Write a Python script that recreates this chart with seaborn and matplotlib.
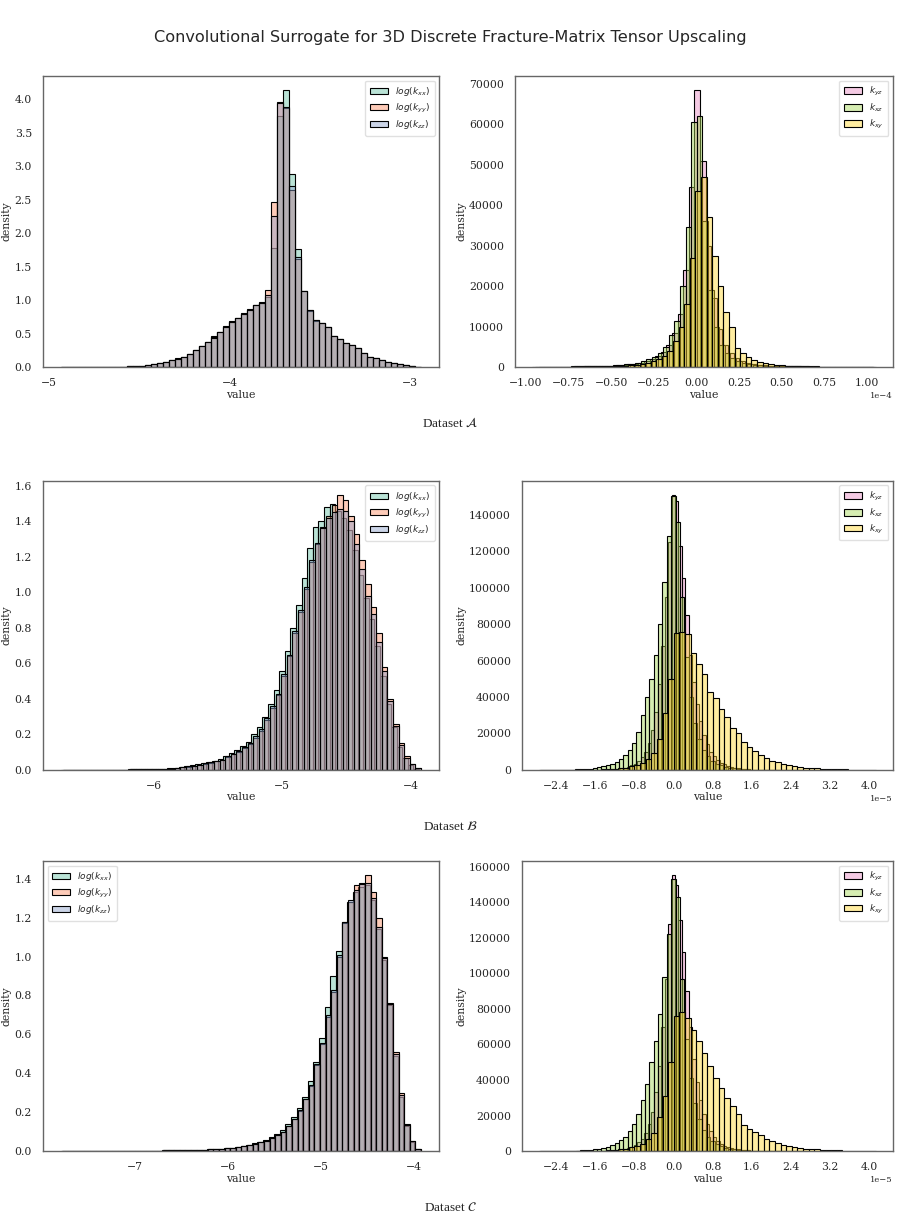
import numpy as np
import matplotlib.pyplot as plt
from matplotlib.ticker import MultipleLocator
import seaborn as sns

sns.set_theme(style="white")
plt.rcParams["font.family"] = "serif"
plt.rcParams["font.serif"] = ["DejaVu Serif"]
plt.rcParams["axes.edgecolor"] = "0.4"
plt.rcParams["axes.linewidth"] = 1.0

# each series: (first bin edge, bin width, bin heights)

# Dataset A, diagonal terms
a_kxx = (-4.935, 0.03325, [
    0.001, 0.001, 0.002, 0.002, 0.002, 0.003, 0.003, 0.004, 0.004, 0.005, 0.006, 0.008, 0.012, 0.02, 0.03,
    0.046, 0.062, 0.078, 0.10, 0.13, 0.155, 0.195, 0.255, 0.315, 0.38, 0.46, 0.53, 0.61,
    0.69, 0.74, 0.80, 0.86, 0.92, 0.97, 1.05,
    1.78, 3.75, 4.14, 2.88, 1.76,
    1.13, 0.85, 0.70, 0.66, 0.60, 0.47, 0.42, 0.36, 0.33, 0.28, 0.21, 0.155, 0.13, 0.105, 0.08, 0.055,
    0.04, 0.025, 0.015, 0.005])
a_kyy = (-4.935, 0.03325, [
    0.001, 0.001, 0.002, 0.002, 0.002, 0.003, 0.003, 0.004, 0.004, 0.005, 0.006, 0.008, 0.012, 0.02, 0.03,
    0.045, 0.06, 0.076, 0.10, 0.125, 0.15, 0.19, 0.25, 0.31, 0.38, 0.45, 0.52, 0.60,
    0.68, 0.73, 0.79, 0.85, 0.92, 0.96, 1.15,
    2.47, 3.96, 3.87, 2.65, 1.62,
    1.14, 0.84, 0.69, 0.66, 0.60, 0.47, 0.42, 0.36, 0.33, 0.28, 0.21, 0.155, 0.13, 0.105, 0.08, 0.055,
    0.04, 0.025, 0.015, 0.005])
a_kzz = (-4.935, 0.03325, [
    0.001, 0.001, 0.002, 0.002, 0.002, 0.003, 0.003, 0.004, 0.004, 0.005, 0.006, 0.008, 0.012, 0.02, 0.03,
    0.045, 0.06, 0.075, 0.10, 0.125, 0.15, 0.19, 0.25, 0.31, 0.37, 0.44, 0.52, 0.60,
    0.68, 0.73, 0.79, 0.85, 0.92, 0.96, 1.08,
    2.25, 3.95, 3.88, 2.70, 1.65,
    1.14, 0.85, 0.70, 0.66, 0.60, 0.47, 0.42, 0.36, 0.33, 0.28, 0.21, 0.155, 0.13, 0.105, 0.08, 0.055,
    0.04, 0.025, 0.015, 0.005])

# Dataset A, off-diagonal terms
a_kyz = (-0.963e-4, 0.0328e-4, [
    30, 40, 50, 60, 80, 100, 120, 140, 160, 180, 200, 210, 230, 250, 300,
    400, 500, 650, 850, 1100, 1500, 2000, 2700, 3800, 5500, 8500, 13000, 24000, 44500,
    68500, 51000, 30000, 17000, 9500, 5500, 3500, 2300, 1600, 1100, 800, 600, 450, 350, 280, 220,
    180, 160, 140, 120, 110, 100, 90, 80, 70, 60, 50, 40, 35, 30, 25, 20])
a_kxz = (-0.949e-4, 0.0328e-4, [
    30, 40, 50, 60, 80, 100, 120, 150, 170, 200, 220, 240, 270, 300, 400,
    500, 650, 850, 1100, 1500, 2000, 2600, 3500, 5000, 8000, 11500, 20000, 34500, 60500,
    62000, 36000, 19000, 10000, 5500, 3500, 2300, 1600, 1100, 800, 600, 450,
    350, 300, 260, 230, 200, 180, 160, 140, 120, 100, 90, 80, 70, 60, 50, 40, 35, 30, 25, 20])
a_kxy = (-0.924e-4, 0.0328e-4, [
    20, 30, 40, 50, 60, 80, 100, 120, 140, 160, 180, 200, 220, 250, 280,
    350, 450, 600, 800, 1100, 1500, 2000, 2700, 4000, 6500, 10000, 15500, 27000, 43500,
    47000, 37000, 27500, 20000, 13600, 10000, 4700, 3400, 2500, 1800, 1300, 1000, 750, 550, 400, 300,
    250, 220, 190, 160, 140, 120, 100, 80, 70, 60, 50, 40, 30, 25, 20])

# Dataset B, diagonal terms
b_kxx = (-6.72, 0.0435, [
    0.0005, 0.0005, 0.0005, 0.001, 0.001, 0.001, 0.001, 0.0015, 0.0015, 0.002, 0.002, 0.0025, 0.003, 0.003, 0.004, 0.004,
    0.0045, 0.005, 0.007, 0.009, 0.011, 0.016, 0.021, 0.026, 0.032, 0.039, 0.045, 0.053, 0.062, 0.081, 0.097, 0.11,
    0.135, 0.16, 0.20, 0.24, 0.30, 0.37, 0.45, 0.56, 0.67, 0.80, 0.93, 1.08, 1.25, 1.37, 1.40, 1.48,
    1.50, 1.46, 1.42, 1.35, 1.24, 1.10, 0.97, 0.85, 0.70, 0.53, 0.37, 0.24, 0.13, 0.065, 0.03, 0.008])
b_kyy = (-6.705, 0.0435, [
    0.0005, 0.0005, 0.0005, 0.001, 0.001, 0.001, 0.001, 0.0015, 0.0015, 0.002, 0.002, 0.0025, 0.003, 0.003, 0.004, 0.004,
    0.004, 0.005, 0.006, 0.008, 0.01, 0.014, 0.019, 0.023, 0.029, 0.035, 0.041, 0.048, 0.056, 0.074, 0.089, 0.10,
    0.125, 0.145, 0.18, 0.22, 0.28, 0.35, 0.42, 0.53, 0.64, 0.77, 0.89, 1.02, 1.17, 1.27, 1.37, 1.43,
    1.49, 1.55, 1.52, 1.43, 1.33, 1.18, 1.05, 0.92, 0.77, 0.58, 0.40, 0.26, 0.15, 0.08, 0.035, 0.01])
b_kzz = (-6.705, 0.0435, [
    0.0005, 0.0005, 0.0005, 0.001, 0.001, 0.001, 0.001, 0.0015, 0.0015, 0.002, 0.002, 0.0025, 0.003, 0.003, 0.004, 0.004,
    0.004, 0.005, 0.006, 0.008, 0.01, 0.015, 0.02, 0.024, 0.03, 0.037, 0.043, 0.05, 0.058, 0.077, 0.092, 0.105,
    0.13, 0.15, 0.19, 0.23, 0.29, 0.36, 0.43, 0.54, 0.65, 0.78, 0.90, 1.03, 1.18, 1.28, 1.36, 1.42,
    1.45, 1.47, 1.46, 1.40, 1.27, 1.13, 0.98, 0.88, 0.72, 0.56, 0.39, 0.25, 0.14, 0.07, 0.035, 0.01])

# Dataset B, off-diagonal terms
b_kyz = (-2.0e-5, 0.07e-5, [
    10, 20, 30, 40, 60, 80, 100, 130, 160, 200,
    300, 450, 650, 900, 1300, 1800, 2500, 3500, 5000, 7000,
    10000, 15000, 22000, 32000, 47000, 68000, 95000, 125000, 150900, 147600,
    123000, 105000, 85000, 63000, 48000, 36000, 27000, 19000, 14000, 10000,
    7500, 5500, 4000, 3000, 2200, 1600, 1200, 900, 650, 500,
    350, 250, 180, 140, 110, 80, 60, 40, 30, 20])
b_kxz = (-2.718e-5, 0.089e-5, [
    30, 40, 55, 75, 100, 130, 170, 220, 290, 400,
    550, 800, 1100, 1500, 2000, 2600, 3500, 4500, 6000, 8000,
    11000, 15000, 21000, 30000, 40000, 50000, 63000, 80000, 103000, 128000,
    150000, 136000, 95000, 62000, 40000, 26000, 17000, 11000, 7500, 5000,
    3500, 2500, 1800, 1300, 900, 600, 450, 300, 200, 150,
    110, 80, 60, 50, 40, 30, 25, 20, 15, 10])
b_kxy = (-2.75e-5, 0.1148e-5, [
    10, 15, 20, 30, 40, 50, 70, 90, 120, 160,
    200, 300, 400, 600, 900, 1300, 2000, 2800, 4000, 6000,
    9500, 17000, 31000, 50000, 75000, 75500, 74500, 64000, 58000, 52500,
    43000, 39500, 33500, 29000, 23000, 20000, 15500, 12500, 10500, 8000,
    6500, 5000, 4500, 3000, 2700, 2200, 1800, 1300, 1100, 900,
    750, 600, 500, 400, 300, 250, 200, 150, 100, 60])

# Dataset C, diagonal terms
c_kxx = (-7.80, 0.0605, [
    0.0005, 0.0005, 0.0005, 0.0005, 0.0008, 0.0008, 0.001, 0.001, 0.001, 0.0012, 0.0012, 0.0015, 0.0015, 0.0018, 0.002, 0.002,
    0.002, 0.0025, 0.003, 0.003, 0.0035, 0.004, 0.0045, 0.0055, 0.0065, 0.0075, 0.009, 0.011, 0.013, 0.015, 0.018, 0.023,
    0.028, 0.033, 0.039, 0.048, 0.058, 0.071, 0.089, 0.108, 0.14, 0.175, 0.22, 0.28, 0.36, 0.46, 0.58, 0.74,
    0.90, 1.03, 1.18, 1.28, 1.33, 1.36, 1.37, 1.29, 1.14, 0.98, 0.75, 0.49, 0.28, 0.13, 0.048, 0.01])
c_kyy = (-7.79, 0.0605, [
    0.0005, 0.0005, 0.0005, 0.0005, 0.0008, 0.0008, 0.001, 0.001, 0.001, 0.0012, 0.0012, 0.0015, 0.0015, 0.0018, 0.002, 0.002,
    0.002, 0.0025, 0.003, 0.003, 0.0035, 0.004, 0.004, 0.005, 0.006, 0.007, 0.008, 0.01, 0.012, 0.014, 0.017, 0.021,
    0.026, 0.031, 0.036, 0.045, 0.054, 0.066, 0.082, 0.10, 0.128, 0.163, 0.205, 0.265, 0.335, 0.44, 0.55, 0.69,
    0.82, 1.00, 1.17, 1.28, 1.37, 1.38, 1.42, 1.33, 1.20, 1.00, 0.76, 0.51, 0.30, 0.14, 0.05, 0.01])
c_kzz = (-7.79, 0.0605, [
    0.0005, 0.0005, 0.0005, 0.0005, 0.0008, 0.0008, 0.001, 0.001, 0.001, 0.0012, 0.0012, 0.0015, 0.0015, 0.0018, 0.002, 0.002,
    0.002, 0.0025, 0.003, 0.003, 0.0035, 0.004, 0.004, 0.005, 0.006, 0.007, 0.008, 0.01, 0.012, 0.014, 0.017, 0.021,
    0.026, 0.031, 0.036, 0.045, 0.054, 0.066, 0.083, 0.10, 0.13, 0.165, 0.21, 0.27, 0.34, 0.445, 0.555, 0.70,
    0.83, 1.01, 1.18, 1.29, 1.34, 1.375, 1.38, 1.30, 1.15, 0.99, 0.755, 0.50, 0.29, 0.135, 0.05, 0.01])

# Dataset C, off-diagonal terms
c_kyz = (-2.0e-5, 0.07e-5, [
    10, 20, 30, 40, 60, 80, 100, 130, 160, 200,
    300, 450, 650, 900, 1300, 1800, 2500, 3500, 5000, 7000,
    10000, 15000, 22000, 33000, 48000, 70000, 97000, 128000, 155500, 150000,
    130000, 112000, 90000, 70000, 52000, 39000, 29000, 21000, 15000, 11000,
    8000, 5800, 4200, 3100, 2300, 1700, 1250, 900, 650, 500,
    350, 250, 180, 140, 110, 80, 60, 40, 30, 20])
c_kxz = (-2.718e-5, 0.089e-5, [
    30, 40, 55, 75, 100, 130, 170, 220, 290, 400,
    550, 800, 1000, 1400, 1900, 2500, 3300, 4500, 6000, 8000,
    11000, 15000, 21000, 29000, 38000, 50000, 62000, 77000, 98000, 122000,
    153000, 143000, 97000, 63000, 41000, 27000, 18000, 12000, 8000, 5500,
    3800, 2700, 1900, 1350, 950, 650, 470, 320, 220, 160,
    120, 90, 70, 55, 45, 35, 28, 22, 16, 10])
c_kxy = (-2.75e-5, 0.1148e-5, [
    10, 15, 20, 30, 40, 50, 70, 90, 120, 160,
    200, 300, 400, 600, 900, 1300, 2000, 2800, 4000, 6500,
    10000, 19000, 31000, 50000, 76000, 78500, 75000, 68000, 62000, 55000,
    48000, 41000, 35300, 29700, 25500, 20600, 14600, 12200, 10500, 9000,
    6800, 5800, 4300, 3400, 2800, 2200, 1800, 1400, 1100, 900,
    750, 600, 500, 400, 300, 250, 200, 150, 100, 60])

diag_labels = [r"$log(k_{xx})$", r"$log(k_{yy})$", r"$log(k_{zz})$"]
off_labels = [r"$k_{yz}$", r"$k_{xz}$", r"$k_{xy}$"]
pal = sns.color_palette("Set2", 6)
diag_colors = pal[:3]
off_colors = pal[3:]

title = "Convolutional Surrogate for 3D Discrete Fracture-Matrix Tensor Upscaling"
datasets = [r"Dataset $\mathcal{A}$", r"Dataset $\mathcal{B}$", r"Dataset $\mathcal{C}$"]


def hist_panel(ax, series, labels, colors, loc):
    for (start, width, dens), lab, col in zip(series, labels, colors):
        edges = start + width * np.arange(len(dens) + 1)
        # bins as a list: seaborn compares bins to "auto" when weights are given
        sns.histplot(x=edges[:-1] + width / 2, weights=dens, bins=list(edges), ax=ax,
                     color=col, alpha=0.45, edgecolor="black", linewidth=0.8, label=lab)
    ax.set_xlabel("value", fontsize=7.8, labelpad=1)
    ax.set_ylabel("density", fontsize=7.8, labelpad=2)
    ax.tick_params(labelsize=7.8, pad=2)
    ax.legend(loc=loc, fontsize=6.5, framealpha=0.8, edgecolor="0.85",
              handlelength=2.0, borderpad=0.5, labelspacing=0.4)


fig = plt.figure(figsize=(9, 12.21), dpi=100)

rows = [
    ([a_kxx, a_kyy, a_kzz], [a_kyz, a_kxz, a_kxy], "upper right", 0.25e-4, 0.6994, 0.2383, 0.5722, 0.42, 0.6505),
    ([b_kxx, b_kyy, b_kzz], [b_kyz, b_kxz, b_kxy], "upper right", 0.8e-5, 0.3694, 0.2367, 0.58, 0.4122, 0.3205),
    ([c_kxx, c_kyy, c_kzz], [c_kyz, c_kxz, c_kxy], "upper left", 0.8e-5, 0.0573, 0.2375, 0.58, 0.4122, 0.008),
]

for (diag, off, loc, step, bottom, height, rx, rw, ty), name in zip(rows, datasets):
    ax_l = fig.add_axes([0.0478, bottom, 0.44, height])
    hist_panel(ax_l, diag, diag_labels, diag_colors, loc)
    ax_l.xaxis.set_major_locator(MultipleLocator(1))

    ax_r = fig.add_axes([rx, bottom, rw, height])
    hist_panel(ax_r, off, off_labels, off_colors, "upper right")
    ax_r.xaxis.set_major_locator(MultipleLocator(step))
    ax_r.ticklabel_format(axis="x", style="sci", scilimits=(0, 0))
    ax_r.xaxis.get_offset_text().set_fontsize(6)

    fig.text(0.5, ty, name, ha="center", fontsize=9.5, family="Liberation Serif",
             math_fontfamily="stix")

fig.text(0.5, 0.966, title, ha="center", fontsize=11.6, family="DejaVu Sans")

fig.savefig("out.png", dpi=100)
